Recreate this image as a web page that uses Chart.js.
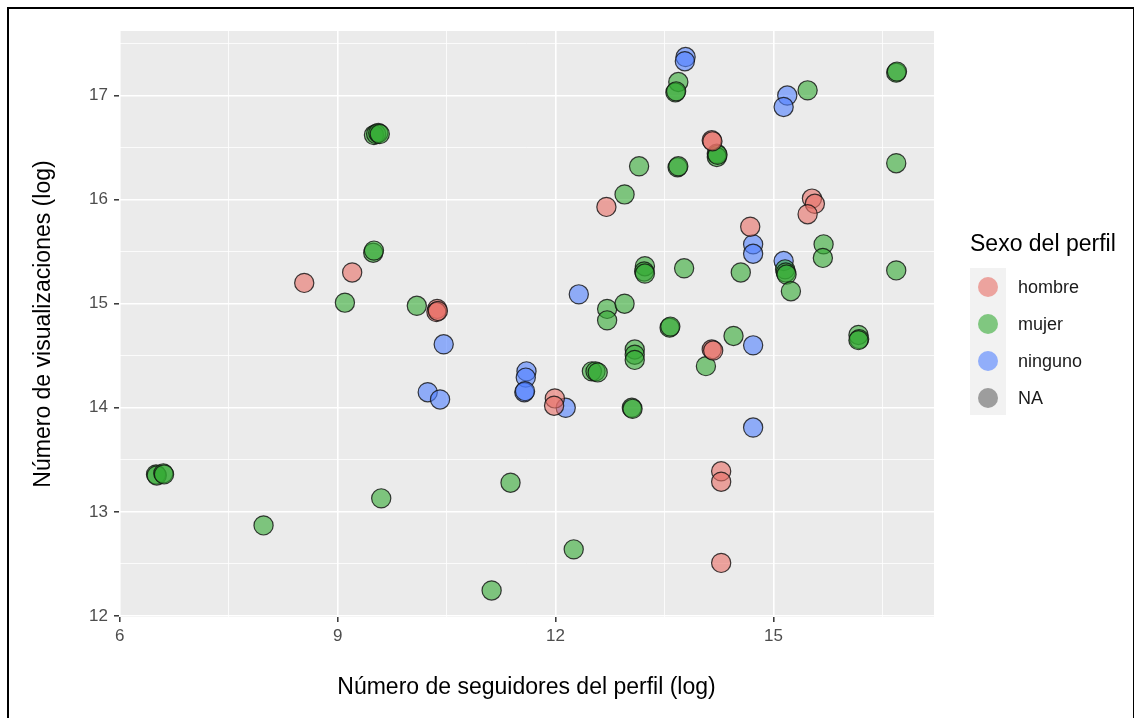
<!DOCTYPE html>
<html>
<head>
<meta charset="utf-8">
<script src="https://cdn.jsdelivr.net/npm/chart.js@4/dist/chart.umd.min.js"></script>
<style>
	html, body { margin: 0; padding: 0; background: #fff; }
	#wrap { position: relative; width: 1134px; height: 718px; overflow: hidden; }
	#frame { position: absolute; left: 7px; top: 7px; width: 1124px; height: 760px; border: 2px solid #000; pointer-events: none; }
</style>
</head>
<body>
<div id="wrap">
	<canvas id="myChart" width="1134" height="718"></canvas>
	<div id="frame"></div>
</div>
<script>
// series: followers (log) vs views (log)
const hombreSeguidores = [8.54, 9.20, 10.37, 10.36, 10.38, 11.99, 11.98, 12.70, 14.15, 14.16, 14.15, 14.17, 14.68, 15.53, 15.57, 15.47, 14.28, 14.28, 14.28];
const hombreVisualizaciones = [15.20, 15.30, 14.95, 14.92, 14.93, 14.09, 14.02, 15.93, 16.57, 16.56, 14.56, 14.55, 15.74, 16.01, 15.96, 15.86, 13.39, 13.29, 12.51];

const mujerSeguidores = [6.50, 6.51, 6.60, 6.61, 7.98, 9.60, 11.12, 11.38, 12.25, 9.50, 9.53, 9.56, 9.58, 9.49, 9.50, 9.10, 10.09, 12.71, 12.95, 12.71, 12.50, 12.55, 12.58, 13.09, 13.09, 13.09, 13.05, 13.06, 13.57, 13.58, 13.23, 13.22, 13.23, 13.77, 14.07, 14.45, 14.55, 15.16, 15.17, 15.18, 15.24, 15.69, 15.68, 16.69, 16.17, 16.18, 16.17, 13.69, 13.65, 13.66, 15.47, 16.69, 16.70, 14.22, 14.22, 14.23, 13.15, 13.68, 13.69, 16.69, 12.95];
const mujerVisualizaciones = [13.36, 13.35, 13.37, 13.36, 12.87, 13.13, 12.245, 13.28, 12.64, 16.62, 16.63, 16.64, 16.63, 15.49, 15.51, 15.01, 14.98, 14.95, 15.00, 14.84, 14.35, 14.35, 14.34, 14.56, 14.51, 14.46, 14.00, 13.99, 14.77, 14.78, 15.36, 15.31, 15.29, 15.34, 14.40, 14.69, 15.30, 15.33, 15.30, 15.28, 15.12, 15.57, 15.44, 15.32, 14.70, 14.66, 14.65, 17.13, 17.03, 17.04, 17.05, 17.22, 17.23, 16.44, 16.41, 16.43, 16.32, 16.31, 16.32, 16.35, 16.05];

const ningunoSeguidores = [10.46, 10.24, 10.41, 11.60, 11.59, 11.57, 11.58, 12.14, 12.32, 14.72, 14.72, 14.72, 14.72, 15.14, 13.79, 13.78, 15.19, 15.14];
const ningunoVisualizaciones = [14.61, 14.15, 14.08, 14.35, 14.29, 14.15, 14.16, 14.00, 15.09, 14.60, 13.81, 15.57, 15.48, 15.41, 17.37, 17.33, 17.00, 16.89];

const naSeguidores = [];
const naVisualizaciones = [];

const categorias = ['hombre', 'mujer', 'ninguno', 'NA'];
const xTicks = [6, 7.5, 9, 10.5, 12, 13.5, 15, 16.5];
const yTicks = [12, 12.5, 13, 13.5, 14, 14.5, 15, 15.5, 16, 16.5, 17, 17.5];
const xMajor = [6, 9, 12, 15];
const yMajor = [12, 13, 14, 15, 16, 17];

const colores = ['rgba(232,110,102,0.6)', 'rgba(52,170,52,0.6)', 'rgba(80,128,255,0.6)', 'rgba(100,100,100,0.6)'];

const font = '"Liberation Sans", Arial, sans-serif';

const toPoints = (xs, ys) => xs.map((x, i) => ({ x, y: ys[i] }));
const series = [
	toPoints(hombreSeguidores, hombreVisualizaciones),
	toPoints(mujerSeguidores, mujerVisualizaciones),
	toPoints(ningunoSeguidores, ningunoVisualizaciones),
	toPoints(naSeguidores, naVisualizaciones),
];

const panelBackground = {
	id: 'panelBackground',
	beforeDraw(chart) {
		const { ctx, chartArea: a } = chart;
		ctx.save();
		ctx.fillStyle = '#EBEBEB';
		ctx.fillRect(a.left, a.top, a.right - a.left, a.bottom - a.top);
		ctx.restore();
	},
};

// ggplot-style legend on the right
const sideLegend = {
	id: 'sideLegend',
	afterDraw(chart) {
		const ctx = chart.ctx;
		const x0 = chart.chartArea.right + 36;
		ctx.save();
		ctx.textBaseline = 'middle';
		ctx.fillStyle = '#000';
		ctx.font = '23px ' + font;
		ctx.fillText('Sexo del perfil', x0, 245);
		ctx.fillStyle = '#F2F2F2';
		ctx.fillRect(x0, 268, 36, 147);
		chart.data.datasets.forEach((ds, i) => {
			const y = 287 + i * 37;
			ctx.beginPath();
			ctx.arc(x0 + 18, y, 10, 0, Math.PI * 2);
			ctx.fillStyle = ds.backgroundColor;
			ctx.fill();
			ctx.fillStyle = '#1A1A1A';
			ctx.font = '18px ' + font;
			ctx.fillText(ds.label, x0 + 48, y + 1);
		});
		ctx.restore();
	},
};

const gridStyle = (major) => ({
	color: '#FFFFFF',
	lineWidth: (c) => (major.includes(c.tick.value) ? 1.6 : 0.8),
	tickLength: 5,
	tickWidth: 1.5,
	tickColor: (c) => (major.includes(c.tick.value) ? '#333333' : 'rgba(0,0,0,0)'),
});

const config = {
	type: 'scatter',
	data: {
		datasets: categorias.map((label, i) => ({
			label,
			data: series[i],
			backgroundColor: colores[i],
			borderColor: 'rgba(15,15,15,0.8)',
			borderWidth: 1.2,
			pointRadius: 9.6,
			pointHoverRadius: 9.6,
		})),
	},
	options: {
		responsive: false,
		animation: false,
		layout: { padding: { top: 31, right: 200, bottom: 0, left: 0 } },
		plugins: {
			legend: { display: false },
			tooltip: { enabled: false },
		},
		scales: {
			x: {
				type: 'linear',
				min: 5.99,
				max: 17.21,
				afterBuildTicks: (s) => { s.ticks = xTicks.map((v) => ({ value: v })); },
				afterFit: (s) => { s.height = 101; },
				border: { display: false },
				grid: gridStyle(xMajor),
				ticks: {
					autoSkip: false,
					maxRotation: 0,
					padding: 4,
					color: '#4D4D4D',
					font: { family: font, size: 17 },
					callback: (v) => (xMajor.includes(v) ? String(v) : ''),
				},
				title: {
					display: true,
					text: 'Número de seguidores del perfil (log)',
					color: '#000',
					font: { family: font, size: 23 },
					padding: { top: 0, bottom: 17 },
				},
			},
			y: {
				type: 'linear',
				min: 11.99,
				max: 17.62,
				afterBuildTicks: (s) => { s.ticks = yTicks.map((v) => ({ value: v })); },
				afterFit: (s) => { s.width = 119; },
				border: { display: false },
				grid: gridStyle(yMajor),
				ticks: {
					autoSkip: false,
					padding: 6,
					color: '#4D4D4D',
					font: { family: font, size: 17 },
					callback: (v) => (yMajor.includes(v) ? String(v) : ''),
				},
				title: {
					display: true,
					text: 'Número de visualizaciones (log)',
					color: '#000',
					font: { family: font, size: 23 },
					padding: { top: 30, bottom: 0 },
				},
			},
		},
	},
	plugins: [panelBackground, sideLegend],
};

new Chart(document.getElementById('myChart'), config);
</script>
</body>
</html>
